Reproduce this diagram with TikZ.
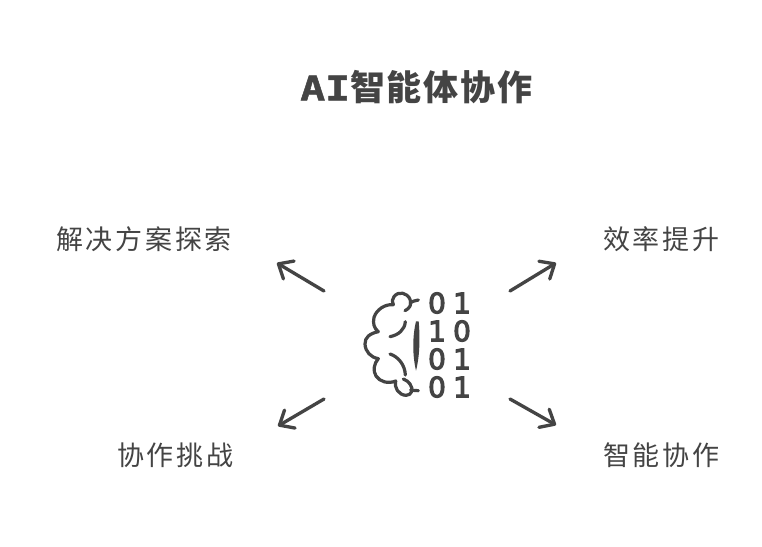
\documentclass[tikz,border=0pt]{standalone}
\usepackage{fontspec}
\usetikzlibrary{arrows.meta}
\newfontfamily\cjkbody[LetterSpace=10]{Noto Sans CJK SC}
\newfontfamily\cjktitle[LetterSpace=5]{Noto Sans CJK SC Black}
\newfontfamily\latintitle[FakeStretch=1.22,BoldFeatures={FakeBold=1.5}]{DejaVu Sans Mono}
\newfontfamily\digitfont[FakeBold=4]{DejaVu Sans}
\definecolor{ink}{HTML}{444444}
\tikzset{
  lab/.style={inner sep=0pt,text=ink,font=\cjkbody\fontsize{20.25pt}{24pt}\selectfont},
  ttl/.style={inner sep=0pt,text=ink},
  digit/.style={inner sep=0pt,text=ink,font=\digitfont\fontsize{21pt}{24pt}\selectfont},
  conn/.style={draw=ink,line width=2.5pt,line cap=round,line join=round,-{Straight Barb[length=9pt,width=15.6pt,round]}},
  brainline/.style={draw=ink,line width=2.4pt,line cap=round,line join=round}
}
\begin{document}
\begin{tikzpicture}[x=.75pt,y=-.75pt]
\useasboundingbox[fill=white] (0,0) rectangle (762,546);
\node[ttl,anchor=west] (title) at (300,87) {{\latintitle\bfseries\fontsize{25.5pt}{30pt}\selectfont AI}{\cjktitle\fontsize{26.25pt}{30pt}\selectfont 智能体协作}};
\node[lab,anchor=west] (tl) at (56,239) {解决方案探索};
\node[lab,anchor=west] (tr) at (603,239) {效率提升};
\node[lab,anchor=west] (bl) at (117,455) {协作挑战};
\node[lab,anchor=west] (br) at (603,455) {智能协作};
\coordinate (s1) at (324,291); \coordinate (e1) at (277,263);
\coordinate (s2) at (510,291); \coordinate (e2) at (556,263);
\coordinate (s3) at (324,399); \coordinate (e3) at (278,426);
\coordinate (s4) at (510,399); \coordinate (e4) at (556,425);
\draw[conn] (s1) -- (e1);
\draw[conn] (s2) -- (e2);
\draw[conn] (s3) -- (e3);
\draw[conn] (s4) -- (e4);
\foreach \y/\a/\b in {303/0/1,331/1/0,359/0/1,387/0/1}{
  \node[digit] (d\y a) at (437,\y) {\a};
  \node[digit] (d\y b) at (462,\y) {\b};
}
\begin{scope}[x=.25pt,y=-.25pt,shift={(1050,840)}]
\draw[brainline] (205,60) .. controls (195,62) and (187,64) .. (180,68);
\draw[brainline] (165,92) .. controls (180,85) and (186,72) .. (180,58)
  .. controls (172,38) and (145,32) .. (132,50)
  .. controls (126,58) and (125,66) .. (130,74)
  .. controls (105,72) and (80,88) .. (72,112)
  .. controls (68,130) and (72,145) .. (85,155)
  .. controls (60,160) and (44,172) .. (45,192)
  .. controls (46,215) and (62,232) .. (85,236)
  .. controls (72,250) and (68,272) .. (78,288)
  .. controls (90,306) and (115,312) .. (137,303)
  .. controls (132,322) and (145,345) .. (168,346)
  .. controls (185,346) and (192,328) .. (180,312)
  .. controls (175,305) and (168,300) .. (160,297);
\draw[brainline] (182,330) .. controls (190,331) and (198,332) .. (205,332);
\draw[brainline] (166,125) .. controls (164,150) and (145,165) .. (120,170);
\draw[brainline] (120,222) .. controls (145,230) and (165,255) .. (166,285);
\fill[ink] (198,124) .. controls (187,170) and (187,225) .. (198,272)
  .. controls (210,225) and (210,170) .. (206,124) -- cycle;
\end{scope}
\end{tikzpicture}
\end{document}
